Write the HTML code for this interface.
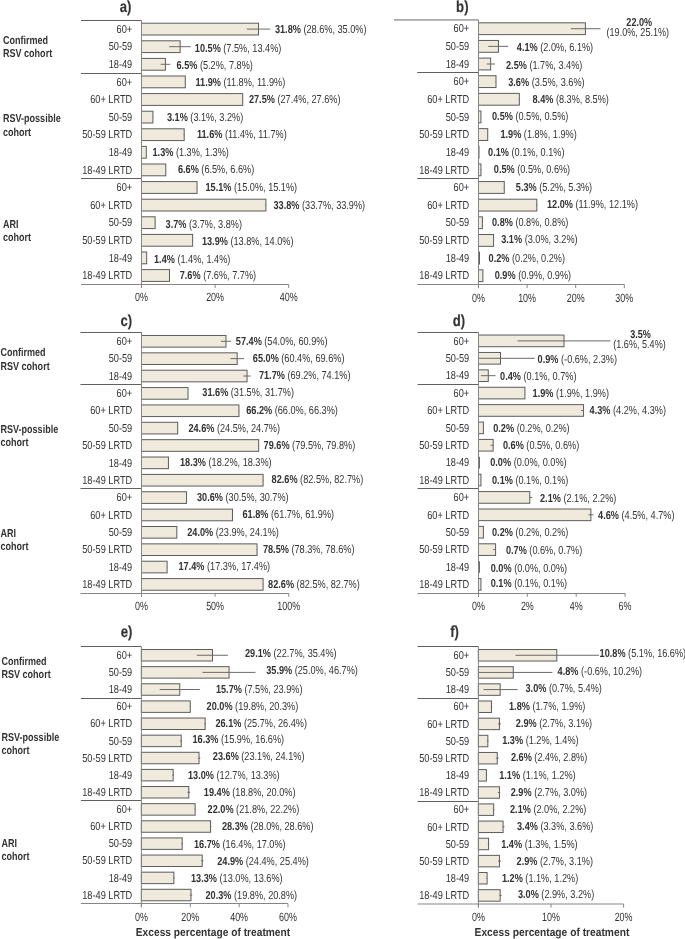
<!DOCTYPE html>
<html><head><meta charset="utf-8"><title>Excess percentage of treatment</title>
<style>
html,body{margin:0;padding:0;background:#fff;}
body{width:685px;height:939px;overflow:hidden;}
svg{display:block;}
svg text{font-family:"Liberation Sans",Arial,sans-serif;fill:#333333;text-rendering:geometricPrecision;}
</style></head><body>
<svg width="685" height="939" viewBox="0 0 685 939" shape-rendering="auto">
<g id="panel-a"><line x1="81" y1="20.5" x2="141.5" y2="20.5" stroke="#606060" stroke-width="1"/>
<line x1="81" y1="73.5" x2="141.5" y2="73.5" stroke="#606060"/>
<line x1="81" y1="178.5" x2="141.5" y2="178.5" stroke="#606060"/>
<line x1="81" y1="284.5" x2="288.7" y2="284.5" stroke="#858585"/>
<line x1="141.5" y1="284.3" x2="141.5" y2="287.9" stroke="#858585"/>
<text transform="translate(141.5,301) scale(0.745,1)" text-anchor="middle" font-size="12">0%</text>
<line x1="215.1" y1="284.3" x2="215.1" y2="287.9" stroke="#858585"/>
<text transform="translate(215.1,301) scale(0.745,1)" text-anchor="middle" font-size="12">20%</text>
<line x1="288.7" y1="284.3" x2="288.7" y2="287.9" stroke="#858585"/>
<text transform="translate(288.7,301) scale(0.745,1)" text-anchor="middle" font-size="12">40%</text>
<rect x="141.5" y="23.2" width="117.02" height="11.79" fill="#f0eadc" stroke="#5c5c5c"/>
<line x1="246.75" y1="29.1" x2="270.3" y2="29.1" stroke="#6a6a6a"/>
<text transform="translate(132.2,33) scale(0.8,1)" text-anchor="end" font-size="11.5">60+</text>
<text transform="translate(274.9,33) scale(0.79,1)" font-size="11.6"><tspan font-weight="bold">31.8%</tspan> (28.6%, 35.0%)</text>
<rect x="141.5" y="40.8" width="38.64" height="11.79" fill="#f0eadc" stroke="#5c5c5c"/>
<line x1="169.1" y1="46.7" x2="190.81" y2="46.7" stroke="#6a6a6a"/>
<text transform="translate(132.2,50) scale(0.8,1)" text-anchor="end" font-size="11.5">50-59</text>
<text transform="translate(194.8,52) scale(0.79,1)" font-size="11.6"><tspan font-weight="bold">10.5%</tspan> (7.5%, 13.4%)</text>
<rect x="141.5" y="58.4" width="23.92" height="11.79" fill="#f0eadc" stroke="#5c5c5c"/>
<line x1="160.64" y1="64.3" x2="170.2" y2="64.3" stroke="#6a6a6a"/>
<text transform="translate(132.2,68) scale(0.8,1)" text-anchor="end" font-size="11.5">18-49</text>
<text transform="translate(176.5,69) scale(0.79,1)" font-size="11.6"><tspan font-weight="bold">6.5%</tspan> (5.2%, 7.8%)</text>
<rect x="141.5" y="76" width="43.79" height="11.79" fill="#f0eadc" stroke="#5c5c5c"/>
<line x1="184.92" y1="81.9" x2="185.29" y2="81.9" stroke="#6a6a6a"/>
<text transform="translate(132.2,86) scale(0.8,1)" text-anchor="end" font-size="11.5">60+</text>
<text transform="translate(195.5,86) scale(0.79,1)" font-size="11.6"><tspan font-weight="bold">11.9%</tspan> (11.8%, 11.9%)</text>
<rect x="141.5" y="93.6" width="101.2" height="11.79" fill="#f0eadc" stroke="#5c5c5c"/>
<line x1="242.33" y1="99.5" x2="243.07" y2="99.5" stroke="#6a6a6a"/>
<text transform="translate(132.2,103) scale(0.8,1)" text-anchor="end" font-size="11.5">60+ LRTD</text>
<text transform="translate(248.9,103) scale(0.79,1)" font-size="11.6"><tspan font-weight="bold">27.5%</tspan> (27.4%, 27.6%)</text>
<rect x="141.5" y="111.2" width="11.41" height="11.79" fill="#f0eadc" stroke="#5c5c5c"/>
<line x1="152.91" y1="117.1" x2="153.28" y2="117.1" stroke="#6a6a6a"/>
<text transform="translate(132.2,121) scale(0.8,1)" text-anchor="end" font-size="11.5">50-59</text>
<text transform="translate(166.9,121) scale(0.79,1)" font-size="11.6"><tspan font-weight="bold">3.1%</tspan> (3.1%, 3.2%)</text>
<rect x="141.5" y="128.8" width="42.69" height="11.79" fill="#f0eadc" stroke="#5c5c5c"/>
<line x1="183.45" y1="134.7" x2="184.56" y2="134.7" stroke="#6a6a6a"/>
<text transform="translate(132.2,138) scale(0.8,1)" text-anchor="end" font-size="11.5">50-59 LRTD</text>
<text transform="translate(196.9,138) scale(0.79,1)" font-size="11.6"><tspan font-weight="bold">11.6%</tspan> (11.4%, 11.7%)</text>
<rect x="141.5" y="146.4" width="4.78" height="11.79" fill="#f0eadc" stroke="#5c5c5c"/>
<text transform="translate(132.2,156) scale(0.8,1)" text-anchor="end" font-size="11.5">18-49</text>
<text transform="translate(152.5,156) scale(0.79,1)" font-size="11.6"><tspan font-weight="bold">1.3%</tspan> (1.3%, 1.3%)</text>
<rect x="141.5" y="164" width="24.29" height="11.79" fill="#f0eadc" stroke="#5c5c5c"/>
<line x1="165.42" y1="169.9" x2="165.79" y2="169.9" stroke="#6a6a6a"/>
<text transform="translate(132.2,174) scale(0.8,1)" text-anchor="end" font-size="11.5">18-49 LRTD</text>
<text transform="translate(177.9,173) scale(0.79,1)" font-size="11.6"><tspan font-weight="bold">6.6%</tspan> (6.5%, 6.6%)</text>
<rect x="141.5" y="181.6" width="55.57" height="11.79" fill="#f0eadc" stroke="#5c5c5c"/>
<line x1="196.7" y1="187.5" x2="197.07" y2="187.5" stroke="#6a6a6a"/>
<text transform="translate(132.2,191) scale(0.8,1)" text-anchor="end" font-size="11.5">60+</text>
<text transform="translate(205.5,191) scale(0.79,1)" font-size="11.6"><tspan font-weight="bold">15.1%</tspan> (15.0%, 15.1%)</text>
<rect x="141.5" y="199.2" width="124.38" height="11.79" fill="#f0eadc" stroke="#5c5c5c"/>
<line x1="265.52" y1="205.1" x2="266.25" y2="205.1" stroke="#6a6a6a"/>
<text transform="translate(132.2,209) scale(0.8,1)" text-anchor="end" font-size="11.5">60+ LRTD</text>
<text transform="translate(273.5,209) scale(0.79,1)" font-size="11.6"><tspan font-weight="bold">33.8%</tspan> (33.7%, 33.9%)</text>
<rect x="141.5" y="216.8" width="13.62" height="11.79" fill="#f0eadc" stroke="#5c5c5c"/>
<line x1="155.12" y1="222.7" x2="155.48" y2="222.7" stroke="#6a6a6a"/>
<text transform="translate(132.2,226) scale(0.8,1)" text-anchor="end" font-size="11.5">50-59</text>
<text transform="translate(165.6,228) scale(0.79,1)" font-size="11.6"><tspan font-weight="bold">3.7%</tspan> (3.7%, 3.8%)</text>
<rect x="141.5" y="234.4" width="51.15" height="11.79" fill="#f0eadc" stroke="#5c5c5c"/>
<line x1="192.28" y1="240.3" x2="193.02" y2="240.3" stroke="#6a6a6a"/>
<text transform="translate(132.2,244) scale(0.8,1)" text-anchor="end" font-size="11.5">50-59 LRTD</text>
<text transform="translate(201.9,245) scale(0.79,1)" font-size="11.6"><tspan font-weight="bold">13.9%</tspan> (13.8%, 14.0%)</text>
<rect x="141.5" y="252" width="5.15" height="11.79" fill="#f0eadc" stroke="#5c5c5c"/>
<text transform="translate(132.2,262) scale(0.8,1)" text-anchor="end" font-size="11.5">18-49</text>
<text transform="translate(154,263) scale(0.79,1)" font-size="11.6"><tspan font-weight="bold">1.4%</tspan> (1.4%, 1.4%)</text>
<rect x="141.5" y="269.6" width="27.97" height="11.79" fill="#f0eadc" stroke="#5c5c5c"/>
<line x1="169.47" y1="275.5" x2="169.84" y2="275.5" stroke="#6a6a6a"/>
<text transform="translate(132.2,279) scale(0.8,1)" text-anchor="end" font-size="11.5">18-49 LRTD</text>
<text transform="translate(179.7,279) scale(0.79,1)" font-size="11.6"><tspan font-weight="bold">7.6%</tspan> (7.6%, 7.7%)</text>
<line x1="141.5" y1="20.3" x2="141.5" y2="287.9" stroke="#858585"/>
<text transform="translate(125.6,11.7) scale(0.82,1)" text-anchor="middle" font-size="16" font-weight="bold" stroke="#333" stroke-width="0.15">a)</text>
<text transform="translate(3,43.7) scale(0.785,1)" text-anchor="start" font-size="11.5" font-weight="bold">Confirmed</text>
<text transform="translate(3,57.1) scale(0.785,1)" text-anchor="start" font-size="11.5" font-weight="bold">RSV cohort</text>
<text transform="translate(3,122.4) scale(0.785,1)" text-anchor="start" font-size="11.5" font-weight="bold">RSV-possible</text>
<text transform="translate(3,135.6) scale(0.785,1)" text-anchor="start" font-size="11.5" font-weight="bold">cohort</text>
<text transform="translate(3,227.7) scale(0.785,1)" text-anchor="start" font-size="11.5" font-weight="bold">ARI</text>
<text transform="translate(3,240.9) scale(0.785,1)" text-anchor="start" font-size="11.5" font-weight="bold">cohort</text></g>
<g id="panel-b"><line x1="394" y1="19.9" x2="478.5" y2="19.9" stroke="#a8a8a8" stroke-width="1.6"/>
<line x1="417.2" y1="72.5" x2="478.5" y2="72.5" stroke="#606060"/>
<line x1="417.2" y1="178.5" x2="478.5" y2="178.5" stroke="#606060"/>
<line x1="417.2" y1="284.5" x2="624.3" y2="284.5" stroke="#858585"/>
<line x1="478.5" y1="284.5" x2="478.5" y2="288.1" stroke="#858585"/>
<text transform="translate(478.5,302) scale(0.745,1)" text-anchor="middle" font-size="12">0%</text>
<line x1="527.1" y1="284.5" x2="527.1" y2="288.1" stroke="#858585"/>
<text transform="translate(527.1,302) scale(0.745,1)" text-anchor="middle" font-size="12">10%</text>
<line x1="575.7" y1="284.5" x2="575.7" y2="288.1" stroke="#858585"/>
<text transform="translate(575.7,302) scale(0.745,1)" text-anchor="middle" font-size="12">20%</text>
<line x1="624.3" y1="284.5" x2="624.3" y2="288.1" stroke="#858585"/>
<text transform="translate(624.3,302) scale(0.745,1)" text-anchor="middle" font-size="12">30%</text>
<rect x="478.5" y="22.81" width="106.92" height="11.82" fill="#f0eadc" stroke="#5c5c5c"/>
<line x1="570.84" y1="28.72" x2="600.49" y2="28.72" stroke="#6a6a6a"/>
<text transform="translate(469.2,32) scale(0.8,1)" text-anchor="end" font-size="11.5">60+</text>
<rect x="478.5" y="40.45" width="19.93" height="11.82" fill="#f0eadc" stroke="#5c5c5c"/>
<line x1="488.22" y1="46.36" x2="508.15" y2="46.36" stroke="#6a6a6a"/>
<text transform="translate(469.2,50) scale(0.8,1)" text-anchor="end" font-size="11.5">50-59</text>
<text transform="translate(516.8,51) scale(0.79,1)" font-size="11.6"><tspan font-weight="bold">4.1%</tspan> (2.0%, 6.1%)</text>
<rect x="478.5" y="58.09" width="12.15" height="11.82" fill="#f0eadc" stroke="#5c5c5c"/>
<line x1="486.76" y1="64" x2="495.02" y2="64" stroke="#6a6a6a"/>
<text transform="translate(469.2,68) scale(0.8,1)" text-anchor="end" font-size="11.5">18-49</text>
<text transform="translate(506,69) scale(0.79,1)" font-size="11.6"><tspan font-weight="bold">2.5%</tspan> (1.7%, 3.4%)</text>
<rect x="478.5" y="75.73" width="17.5" height="11.82" fill="#f0eadc" stroke="#5c5c5c"/>
<line x1="495.51" y1="81.64" x2="496" y2="81.64" stroke="#6a6a6a"/>
<text transform="translate(469.2,85) scale(0.8,1)" text-anchor="end" font-size="11.5">60+</text>
<text transform="translate(508.2,86) scale(0.79,1)" font-size="11.6"><tspan font-weight="bold">3.6%</tspan> (3.5%, 3.6%)</text>
<rect x="478.5" y="93.37" width="40.82" height="11.82" fill="#f0eadc" stroke="#5c5c5c"/>
<line x1="518.84" y1="99.28" x2="519.81" y2="99.28" stroke="#6a6a6a"/>
<text transform="translate(469.2,103) scale(0.8,1)" text-anchor="end" font-size="11.5">60+ LRTD</text>
<text transform="translate(532.5,103) scale(0.79,1)" font-size="11.6"><tspan font-weight="bold">8.4%</tspan> (8.3%, 8.5%)</text>
<rect x="478.5" y="111.01" width="2.43" height="11.82" fill="#f0eadc" stroke="#5c5c5c"/>
<text transform="translate(469.2,121) scale(0.8,1)" text-anchor="end" font-size="11.5">50-59</text>
<text transform="translate(492,120) scale(0.79,1)" font-size="11.6"><tspan font-weight="bold">0.5%</tspan> (0.5%, 0.5%)</text>
<rect x="478.5" y="128.65" width="9.23" height="11.82" fill="#f0eadc" stroke="#5c5c5c"/>
<line x1="487.25" y1="134.56" x2="487.73" y2="134.56" stroke="#6a6a6a"/>
<text transform="translate(469.2,138) scale(0.8,1)" text-anchor="end" font-size="11.5">50-59 LRTD</text>
<text transform="translate(500.4,138) scale(0.79,1)" font-size="11.6"><tspan font-weight="bold">1.9%</tspan> (1.8%, 1.9%)</text>
<rect x="478.5" y="146.29" width="0.49" height="11.82" fill="#f0eadc" stroke="#5c5c5c"/>
<text transform="translate(469.2,156) scale(0.8,1)" text-anchor="end" font-size="11.5">18-49</text>
<text transform="translate(488.1,156) scale(0.79,1)" font-size="11.6"><tspan font-weight="bold">0.1%</tspan> (0.1%, 0.1%)</text>
<rect x="478.5" y="163.93" width="2.43" height="11.82" fill="#f0eadc" stroke="#5c5c5c"/>
<line x1="480.93" y1="169.84" x2="481.42" y2="169.84" stroke="#6a6a6a"/>
<text transform="translate(469.2,174) scale(0.8,1)" text-anchor="end" font-size="11.5">18-49 LRTD</text>
<text transform="translate(493.8,173) scale(0.79,1)" font-size="11.6"><tspan font-weight="bold">0.5%</tspan> (0.5%, 0.6%)</text>
<rect x="478.5" y="181.57" width="25.76" height="11.82" fill="#f0eadc" stroke="#5c5c5c"/>
<line x1="503.77" y1="187.48" x2="504.26" y2="187.48" stroke="#6a6a6a"/>
<text transform="translate(469.2,191) scale(0.8,1)" text-anchor="end" font-size="11.5">60+</text>
<text transform="translate(515.8,191) scale(0.79,1)" font-size="11.6"><tspan font-weight="bold">5.3%</tspan> (5.2%, 5.3%)</text>
<rect x="478.5" y="199.21" width="58.32" height="11.82" fill="#f0eadc" stroke="#5c5c5c"/>
<line x1="536.33" y1="205.12" x2="537.31" y2="205.12" stroke="#6a6a6a"/>
<text transform="translate(469.2,209) scale(0.8,1)" text-anchor="end" font-size="11.5">60+ LRTD</text>
<text transform="translate(547,208) scale(0.79,1)" font-size="11.6"><tspan font-weight="bold">12.0%</tspan> (11.9%, 12.1%)</text>
<rect x="478.5" y="216.85" width="3.89" height="11.82" fill="#f0eadc" stroke="#5c5c5c"/>
<text transform="translate(469.2,226) scale(0.8,1)" text-anchor="end" font-size="11.5">50-59</text>
<text transform="translate(492,226) scale(0.79,1)" font-size="11.6"><tspan font-weight="bold">0.8%</tspan> (0.8%, 0.8%)</text>
<rect x="478.5" y="234.49" width="15.07" height="11.82" fill="#f0eadc" stroke="#5c5c5c"/>
<line x1="493.08" y1="240.4" x2="494.05" y2="240.4" stroke="#6a6a6a"/>
<text transform="translate(469.2,244) scale(0.8,1)" text-anchor="end" font-size="11.5">50-59 LRTD</text>
<text transform="translate(501.2,243) scale(0.79,1)" font-size="11.6"><tspan font-weight="bold">3.1%</tspan> (3.0%, 3.2%)</text>
<rect x="478.5" y="252.13" width="0.97" height="11.82" fill="#f0eadc" stroke="#5c5c5c"/>
<text transform="translate(469.2,262) scale(0.8,1)" text-anchor="end" font-size="11.5">18-49</text>
<text transform="translate(488.6,262) scale(0.79,1)" font-size="11.6"><tspan font-weight="bold">0.2%</tspan> (0.2%, 0.2%)</text>
<rect x="478.5" y="269.77" width="4.37" height="11.82" fill="#f0eadc" stroke="#5c5c5c"/>
<text transform="translate(469.2,279) scale(0.8,1)" text-anchor="end" font-size="11.5">18-49 LRTD</text>
<text transform="translate(494.7,279) scale(0.79,1)" font-size="11.6"><tspan font-weight="bold">0.9%</tspan> (0.9%, 0.9%)</text>
<line x1="478.5" y1="19.9" x2="478.5" y2="288.1" stroke="#858585"/>
<text transform="translate(462.3,11.7) scale(0.82,1)" text-anchor="middle" font-size="16" font-weight="bold" stroke="#333" stroke-width="0.15">b)</text></g>
<g id="panel-c"><line x1="80.5" y1="332.5" x2="141.5" y2="332.5" stroke="#606060" stroke-width="1"/>
<line x1="80.5" y1="384.5" x2="141.5" y2="384.5" stroke="#606060"/>
<line x1="80.5" y1="488.5" x2="141.5" y2="488.5" stroke="#606060"/>
<line x1="80.5" y1="593.5" x2="288.7" y2="593.5" stroke="#858585"/>
<line x1="141.5" y1="593.1" x2="141.5" y2="596.7" stroke="#858585"/>
<text transform="translate(141.5,610) scale(0.745,1)" text-anchor="middle" font-size="12">0%</text>
<line x1="215.1" y1="593.1" x2="215.1" y2="596.7" stroke="#858585"/>
<text transform="translate(215.1,610) scale(0.745,1)" text-anchor="middle" font-size="12">50%</text>
<line x1="288.7" y1="593.1" x2="288.7" y2="596.7" stroke="#858585"/>
<text transform="translate(288.7,610) scale(0.745,1)" text-anchor="middle" font-size="12">100%</text>
<rect x="141.5" y="335.47" width="84.49" height="11.64" fill="#f0eadc" stroke="#5c5c5c"/>
<line x1="220.99" y1="341.28" x2="231.14" y2="341.28" stroke="#6a6a6a"/>
<text transform="translate(132.2,345) scale(0.8,1)" text-anchor="end" font-size="11.5">60+</text>
<text transform="translate(235.8,345) scale(0.79,1)" font-size="11.6"><tspan font-weight="bold">57.4%</tspan> (54.0%, 60.9%)</text>
<rect x="141.5" y="352.83" width="95.68" height="11.64" fill="#f0eadc" stroke="#5c5c5c"/>
<line x1="230.41" y1="358.65" x2="243.95" y2="358.65" stroke="#6a6a6a"/>
<text transform="translate(132.2,362) scale(0.8,1)" text-anchor="end" font-size="11.5">50-59</text>
<text transform="translate(252.8,362) scale(0.79,1)" font-size="11.6"><tspan font-weight="bold">65.0%</tspan> (60.4%, 69.6%)</text>
<rect x="141.5" y="370.2" width="105.54" height="11.64" fill="#f0eadc" stroke="#5c5c5c"/>
<line x1="243.36" y1="376.02" x2="250.58" y2="376.02" stroke="#6a6a6a"/>
<text transform="translate(132.2,380) scale(0.8,1)" text-anchor="end" font-size="11.5">18-49</text>
<text transform="translate(258.9,379) scale(0.79,1)" font-size="11.6"><tspan font-weight="bold">71.7%</tspan> (69.2%, 74.1%)</text>
<rect x="141.5" y="387.57" width="46.52" height="11.64" fill="#f0eadc" stroke="#5c5c5c"/>
<line x1="187.87" y1="393.38" x2="188.16" y2="393.38" stroke="#6a6a6a"/>
<text transform="translate(132.2,397) scale(0.8,1)" text-anchor="end" font-size="11.5">60+</text>
<text transform="translate(202.3,396) scale(0.79,1)" font-size="11.6"><tspan font-weight="bold">31.6%</tspan> (31.5%, 31.7%)</text>
<rect x="141.5" y="404.93" width="97.45" height="11.64" fill="#f0eadc" stroke="#5c5c5c"/>
<line x1="238.65" y1="410.75" x2="239.09" y2="410.75" stroke="#6a6a6a"/>
<text transform="translate(132.2,414) scale(0.8,1)" text-anchor="end" font-size="11.5">60+ LRTD</text>
<text transform="translate(246.2,414) scale(0.79,1)" font-size="11.6"><tspan font-weight="bold">66.2%</tspan> (66.0%, 66.3%)</text>
<rect x="141.5" y="422.3" width="36.21" height="11.64" fill="#f0eadc" stroke="#5c5c5c"/>
<line x1="177.56" y1="428.12" x2="177.86" y2="428.12" stroke="#6a6a6a"/>
<text transform="translate(132.2,432) scale(0.8,1)" text-anchor="end" font-size="11.5">50-59</text>
<text transform="translate(188.4,432) scale(0.79,1)" font-size="11.6"><tspan font-weight="bold">24.6%</tspan> (24.5%, 24.7%)</text>
<rect x="141.5" y="439.67" width="117.17" height="11.64" fill="#f0eadc" stroke="#5c5c5c"/>
<line x1="258.52" y1="445.48" x2="258.97" y2="445.48" stroke="#6a6a6a"/>
<text transform="translate(132.2,449) scale(0.8,1)" text-anchor="end" font-size="11.5">50-59 LRTD</text>
<text transform="translate(263.6,449) scale(0.79,1)" font-size="11.6"><tspan font-weight="bold">79.6%</tspan> (79.5%, 79.8%)</text>
<rect x="141.5" y="457.03" width="26.94" height="11.64" fill="#f0eadc" stroke="#5c5c5c"/>
<line x1="168.29" y1="462.85" x2="168.44" y2="462.85" stroke="#6a6a6a"/>
<text transform="translate(132.2,467) scale(0.8,1)" text-anchor="end" font-size="11.5">18-49</text>
<text transform="translate(180,466) scale(0.79,1)" font-size="11.6"><tspan font-weight="bold">18.3%</tspan> (18.2%, 18.3%)</text>
<rect x="141.5" y="474.4" width="121.59" height="11.64" fill="#f0eadc" stroke="#5c5c5c"/>
<line x1="262.94" y1="480.22" x2="263.23" y2="480.22" stroke="#6a6a6a"/>
<text transform="translate(132.2,484) scale(0.8,1)" text-anchor="end" font-size="11.5">18-49 LRTD</text>
<text transform="translate(271.6,483) scale(0.79,1)" font-size="11.6"><tspan font-weight="bold">82.6%</tspan> (82.5%, 82.7%)</text>
<rect x="141.5" y="491.77" width="45.04" height="11.64" fill="#f0eadc" stroke="#5c5c5c"/>
<line x1="186.4" y1="497.58" x2="186.69" y2="497.58" stroke="#6a6a6a"/>
<text transform="translate(132.2,501) scale(0.8,1)" text-anchor="end" font-size="11.5">60+</text>
<text transform="translate(197,501) scale(0.79,1)" font-size="11.6"><tspan font-weight="bold">30.6%</tspan> (30.5%, 30.7%)</text>
<rect x="141.5" y="509.13" width="90.97" height="11.64" fill="#f0eadc" stroke="#5c5c5c"/>
<line x1="232.32" y1="514.95" x2="232.62" y2="514.95" stroke="#6a6a6a"/>
<text transform="translate(132.2,519) scale(0.8,1)" text-anchor="end" font-size="11.5">60+ LRTD</text>
<text transform="translate(242.5,518) scale(0.79,1)" font-size="11.6"><tspan font-weight="bold">61.8%</tspan> (61.7%, 61.9%)</text>
<rect x="141.5" y="526.5" width="35.33" height="11.64" fill="#f0eadc" stroke="#5c5c5c"/>
<line x1="176.68" y1="532.32" x2="176.98" y2="532.32" stroke="#6a6a6a"/>
<text transform="translate(132.2,536) scale(0.8,1)" text-anchor="end" font-size="11.5">50-59</text>
<text transform="translate(187.2,536) scale(0.79,1)" font-size="11.6"><tspan font-weight="bold">24.0%</tspan> (23.9%, 24.1%)</text>
<rect x="141.5" y="543.87" width="115.55" height="11.64" fill="#f0eadc" stroke="#5c5c5c"/>
<line x1="256.76" y1="549.68" x2="257.2" y2="549.68" stroke="#6a6a6a"/>
<text transform="translate(132.2,553) scale(0.8,1)" text-anchor="end" font-size="11.5">50-59 LRTD</text>
<text transform="translate(262.9,553) scale(0.79,1)" font-size="11.6"><tspan font-weight="bold">78.5%</tspan> (78.3%, 78.6%)</text>
<rect x="141.5" y="561.23" width="25.61" height="11.64" fill="#f0eadc" stroke="#5c5c5c"/>
<line x1="166.97" y1="567.05" x2="167.11" y2="567.05" stroke="#6a6a6a"/>
<text transform="translate(132.2,571) scale(0.8,1)" text-anchor="end" font-size="11.5">18-49</text>
<text transform="translate(178.5,570) scale(0.79,1)" font-size="11.6"><tspan font-weight="bold">17.4%</tspan> (17.3%, 17.4%)</text>
<rect x="141.5" y="578.6" width="121.59" height="11.64" fill="#f0eadc" stroke="#5c5c5c"/>
<line x1="262.94" y1="584.42" x2="263.23" y2="584.42" stroke="#6a6a6a"/>
<text transform="translate(132.2,588) scale(0.8,1)" text-anchor="end" font-size="11.5">18-49 LRTD</text>
<text transform="translate(268.1,588) scale(0.79,1)" font-size="11.6"><tspan font-weight="bold">82.6%</tspan> (82.5%, 82.7%)</text>
<line x1="141.5" y1="332.6" x2="141.5" y2="596.7" stroke="#858585"/>
<text transform="translate(126.3,325.8) scale(0.82,1)" text-anchor="middle" font-size="16" font-weight="bold" stroke="#333" stroke-width="0.15">c)</text>
<text transform="translate(0.5,355.9) scale(0.785,1)" text-anchor="start" font-size="11.5" font-weight="bold">Confirmed</text>
<text transform="translate(0.5,369.5) scale(0.785,1)" text-anchor="start" font-size="11.5" font-weight="bold">RSV cohort</text>
<text transform="translate(0.5,433.4) scale(0.785,1)" text-anchor="start" font-size="11.5" font-weight="bold">RSV-possible</text>
<text transform="translate(0.5,446.4) scale(0.785,1)" text-anchor="start" font-size="11.5" font-weight="bold">cohort</text>
<text transform="translate(0.5,536.8) scale(0.785,1)" text-anchor="start" font-size="11.5" font-weight="bold">ARI</text>
<text transform="translate(0.5,549.8) scale(0.785,1)" text-anchor="start" font-size="11.5" font-weight="bold">cohort</text></g>
<g id="panel-d"><line x1="417.6" y1="332.5" x2="478.5" y2="332.5" stroke="#606060" stroke-width="1"/>
<line x1="417.6" y1="384.5" x2="478.5" y2="384.5" stroke="#606060"/>
<line x1="417.6" y1="488.5" x2="478.5" y2="488.5" stroke="#606060"/>
<line x1="417.6" y1="593.5" x2="625.08" y2="593.5" stroke="#858585"/>
<line x1="478.5" y1="593.1" x2="478.5" y2="596.7" stroke="#858585"/>
<text transform="translate(478.5,610) scale(0.745,1)" text-anchor="middle" font-size="12">0%</text>
<line x1="527.36" y1="593.1" x2="527.36" y2="596.7" stroke="#858585"/>
<text transform="translate(527.36,610) scale(0.745,1)" text-anchor="middle" font-size="12">2%</text>
<line x1="576.22" y1="593.1" x2="576.22" y2="596.7" stroke="#858585"/>
<text transform="translate(576.22,610) scale(0.745,1)" text-anchor="middle" font-size="12">4%</text>
<line x1="625.08" y1="593.1" x2="625.08" y2="596.7" stroke="#858585"/>
<text transform="translate(625.08,610) scale(0.745,1)" text-anchor="middle" font-size="12">6%</text>
<rect x="478.5" y="335.07" width="85.5" height="11.65" fill="#f0eadc" stroke="#5c5c5c"/>
<line x1="517.59" y1="340.9" x2="610.42" y2="340.9" stroke="#6a6a6a"/>
<text transform="translate(469.2,345) scale(0.8,1)" text-anchor="end" font-size="11.5">60+</text>
<rect x="478.5" y="352.46" width="21.99" height="11.65" fill="#f0eadc" stroke="#5c5c5c"/>
<line x1="478.5" y1="358.29" x2="534.69" y2="358.29" stroke="#6a6a6a"/>
<text transform="translate(469.2,362) scale(0.8,1)" text-anchor="end" font-size="11.5">50-59</text>
<text transform="translate(537.6,363) scale(0.79,1)" font-size="11.6"><tspan font-weight="bold">0.9%</tspan> (-0.6%, 2.3%)</text>
<rect x="478.5" y="369.86" width="9.77" height="11.65" fill="#f0eadc" stroke="#5c5c5c"/>
<line x1="480.94" y1="375.68" x2="495.6" y2="375.68" stroke="#6a6a6a"/>
<text transform="translate(469.2,379) scale(0.8,1)" text-anchor="end" font-size="11.5">18-49</text>
<text transform="translate(500.1,380) scale(0.79,1)" font-size="11.6"><tspan font-weight="bold">0.4%</tspan> (0.1%, 0.7%)</text>
<rect x="478.5" y="387.25" width="46.42" height="11.65" fill="#f0eadc" stroke="#5c5c5c"/>
<text transform="translate(469.2,397) scale(0.8,1)" text-anchor="end" font-size="11.5">60+</text>
<text transform="translate(532.6,397) scale(0.79,1)" font-size="11.6"><tspan font-weight="bold">1.9%</tspan> (1.9%, 1.9%)</text>
<rect x="478.5" y="404.64" width="105.05" height="11.65" fill="#f0eadc" stroke="#5c5c5c"/>
<line x1="581.11" y1="410.47" x2="583.55" y2="410.47" stroke="#6a6a6a"/>
<text transform="translate(469.2,414) scale(0.8,1)" text-anchor="end" font-size="11.5">60+ LRTD</text>
<text transform="translate(589.6,414) scale(0.79,1)" font-size="11.6"><tspan font-weight="bold">4.3%</tspan> (4.2%, 4.3%)</text>
<rect x="478.5" y="422.04" width="4.89" height="11.65" fill="#f0eadc" stroke="#5c5c5c"/>
<text transform="translate(469.2,432) scale(0.8,1)" text-anchor="end" font-size="11.5">50-59</text>
<text transform="translate(493.2,432) scale(0.79,1)" font-size="11.6"><tspan font-weight="bold">0.2%</tspan> (0.2%, 0.2%)</text>
<rect x="478.5" y="439.43" width="14.66" height="11.65" fill="#f0eadc" stroke="#5c5c5c"/>
<line x1="490.71" y1="445.26" x2="493.16" y2="445.26" stroke="#6a6a6a"/>
<text transform="translate(469.2,449) scale(0.8,1)" text-anchor="end" font-size="11.5">50-59 LRTD</text>
<text transform="translate(502.9,449) scale(0.79,1)" font-size="11.6"><tspan font-weight="bold">0.6%</tspan> (0.5%, 0.6%)</text>
<line x1="479.3" y1="456.82" x2="479.3" y2="468.48" stroke="#5c5c5c" stroke-width="1.2"/>
<text transform="translate(469.2,466) scale(0.8,1)" text-anchor="end" font-size="11.5">18-49</text>
<text transform="translate(490.2,466) scale(0.79,1)" font-size="11.6"><tspan font-weight="bold">0.0%</tspan> (0.0%, 0.0%)</text>
<rect x="478.5" y="474.22" width="2.44" height="11.65" fill="#f0eadc" stroke="#5c5c5c"/>
<text transform="translate(469.2,484) scale(0.8,1)" text-anchor="end" font-size="11.5">18-49 LRTD</text>
<text transform="translate(492,484) scale(0.79,1)" font-size="11.6"><tspan font-weight="bold">0.1%</tspan> (0.1%, 0.1%)</text>
<rect x="478.5" y="491.61" width="51.3" height="11.65" fill="#f0eadc" stroke="#5c5c5c"/>
<line x1="529.8" y1="497.44" x2="532.25" y2="497.44" stroke="#6a6a6a"/>
<text transform="translate(469.2,501) scale(0.8,1)" text-anchor="end" font-size="11.5">60+</text>
<text transform="translate(540,502) scale(0.79,1)" font-size="11.6"><tspan font-weight="bold">2.1%</tspan> (2.1%, 2.2%)</text>
<rect x="478.5" y="509" width="112.38" height="11.65" fill="#f0eadc" stroke="#5c5c5c"/>
<line x1="588.43" y1="514.83" x2="593.32" y2="514.83" stroke="#6a6a6a"/>
<text transform="translate(469.2,519) scale(0.8,1)" text-anchor="end" font-size="11.5">60+ LRTD</text>
<text transform="translate(598.1,519) scale(0.79,1)" font-size="11.6"><tspan font-weight="bold">4.6%</tspan> (4.5%, 4.7%)</text>
<rect x="478.5" y="526.4" width="4.89" height="11.65" fill="#f0eadc" stroke="#5c5c5c"/>
<text transform="translate(469.2,536) scale(0.8,1)" text-anchor="end" font-size="11.5">50-59</text>
<text transform="translate(492,536) scale(0.79,1)" font-size="11.6"><tspan font-weight="bold">0.2%</tspan> (0.2%, 0.2%)</text>
<rect x="478.5" y="543.79" width="17.1" height="11.65" fill="#f0eadc" stroke="#5c5c5c"/>
<line x1="493.16" y1="549.62" x2="495.6" y2="549.62" stroke="#6a6a6a"/>
<text transform="translate(469.2,553) scale(0.8,1)" text-anchor="end" font-size="11.5">50-59 LRTD</text>
<text transform="translate(505.9,554) scale(0.79,1)" font-size="11.6"><tspan font-weight="bold">0.7%</tspan> (0.6%, 0.7%)</text>
<line x1="479.3" y1="561.18" x2="479.3" y2="572.84" stroke="#5c5c5c" stroke-width="1.2"/>
<text transform="translate(469.2,571) scale(0.8,1)" text-anchor="end" font-size="11.5">18-49</text>
<text transform="translate(490.7,572) scale(0.79,1)" font-size="11.6"><tspan font-weight="bold">0.0%</tspan> (0.0%, 0.0%)</text>
<rect x="478.5" y="578.58" width="2.44" height="11.65" fill="#f0eadc" stroke="#5c5c5c"/>
<text transform="translate(469.2,588) scale(0.8,1)" text-anchor="end" font-size="11.5">18-49 LRTD</text>
<text transform="translate(490.7,587) scale(0.79,1)" font-size="11.6"><tspan font-weight="bold">0.1%</tspan> (0.1%, 0.1%)</text>
<line x1="478.5" y1="332.2" x2="478.5" y2="596.7" stroke="#858585"/>
<text transform="translate(459,326) scale(0.82,1)" text-anchor="middle" font-size="16" font-weight="bold" stroke="#333" stroke-width="0.15">d)</text></g>
<g id="panel-e"><line x1="80.9" y1="646.5" x2="141.4" y2="646.5" stroke="#606060" stroke-width="1"/>
<line x1="80.9" y1="698.5" x2="141.4" y2="698.5" stroke="#606060"/>
<line x1="80.9" y1="800.5" x2="141.4" y2="800.5" stroke="#606060"/>
<line x1="80.9" y1="903.5" x2="287.98" y2="903.5" stroke="#858585"/>
<line x1="141.4" y1="903.6" x2="141.4" y2="907.2" stroke="#858585"/>
<text transform="translate(141.4,921) scale(0.745,1)" text-anchor="middle" font-size="12">0%</text>
<line x1="190.26" y1="903.6" x2="190.26" y2="907.2" stroke="#858585"/>
<text transform="translate(190.26,921) scale(0.745,1)" text-anchor="middle" font-size="12">20%</text>
<line x1="239.12" y1="903.6" x2="239.12" y2="907.2" stroke="#858585"/>
<text transform="translate(239.12,921) scale(0.745,1)" text-anchor="middle" font-size="12">40%</text>
<line x1="287.98" y1="903.6" x2="287.98" y2="907.2" stroke="#858585"/>
<text transform="translate(287.98,921) scale(0.745,1)" text-anchor="middle" font-size="12">60%</text>
<rect x="141.4" y="649.53" width="71.09" height="11.47" fill="#f0eadc" stroke="#5c5c5c"/>
<line x1="196.86" y1="655.26" x2="227.88" y2="655.26" stroke="#6a6a6a"/>
<text transform="translate(132.2,659) scale(0.8,1)" text-anchor="end" font-size="11.5">60+</text>
<text transform="translate(245,657) scale(0.79,1)" font-size="11.6"><tspan font-weight="bold">29.1%</tspan> (22.7%, 35.4%)</text>
<rect x="141.4" y="666.65" width="87.7" height="11.47" fill="#f0eadc" stroke="#5c5c5c"/>
<line x1="202.48" y1="672.39" x2="255.49" y2="672.39" stroke="#6a6a6a"/>
<text transform="translate(132.2,676) scale(0.8,1)" text-anchor="end" font-size="11.5">50-59</text>
<text transform="translate(266.2,674) scale(0.79,1)" font-size="11.6"><tspan font-weight="bold">35.9%</tspan> (25.0%, 46.7%)</text>
<rect x="141.4" y="683.78" width="38.36" height="11.47" fill="#f0eadc" stroke="#5c5c5c"/>
<line x1="159.72" y1="689.52" x2="199.79" y2="689.52" stroke="#6a6a6a"/>
<text transform="translate(132.2,693) scale(0.8,1)" text-anchor="end" font-size="11.5">18-49</text>
<text transform="translate(215.9,693) scale(0.79,1)" font-size="11.6"><tspan font-weight="bold">15.7%</tspan> (7.5%, 23.9%)</text>
<rect x="141.4" y="700.91" width="48.86" height="11.47" fill="#f0eadc" stroke="#5c5c5c"/>
<line x1="189.77" y1="706.64" x2="190.99" y2="706.64" stroke="#6a6a6a"/>
<text transform="translate(132.2,710) scale(0.8,1)" text-anchor="end" font-size="11.5">60+</text>
<text transform="translate(206.6,710) scale(0.79,1)" font-size="11.6"><tspan font-weight="bold">20.0%</tspan> (19.8%, 20.3%)</text>
<rect x="141.4" y="718.03" width="63.76" height="11.47" fill="#f0eadc" stroke="#5c5c5c"/>
<line x1="204.19" y1="723.77" x2="205.9" y2="723.77" stroke="#6a6a6a"/>
<text transform="translate(132.2,727) scale(0.8,1)" text-anchor="end" font-size="11.5">60+ LRTD</text>
<text transform="translate(215.4,727) scale(0.79,1)" font-size="11.6"><tspan font-weight="bold">26.1%</tspan> (25.7%, 26.4%)</text>
<rect x="141.4" y="735.16" width="39.82" height="11.47" fill="#f0eadc" stroke="#5c5c5c"/>
<line x1="180.24" y1="740.9" x2="181.95" y2="740.9" stroke="#6a6a6a"/>
<text transform="translate(132.2,745) scale(0.8,1)" text-anchor="end" font-size="11.5">50-59</text>
<text transform="translate(192.5,743) scale(0.79,1)" font-size="11.6"><tspan font-weight="bold">16.3%</tspan> (15.9%, 16.6%)</text>
<rect x="141.4" y="752.29" width="57.65" height="11.47" fill="#f0eadc" stroke="#5c5c5c"/>
<line x1="197.83" y1="758.02" x2="200.28" y2="758.02" stroke="#6a6a6a"/>
<text transform="translate(132.2,762) scale(0.8,1)" text-anchor="end" font-size="11.5">50-59 LRTD</text>
<text transform="translate(212.8,760) scale(0.79,1)" font-size="11.6"><tspan font-weight="bold">23.6%</tspan> (23.1%, 24.1%)</text>
<rect x="141.4" y="769.41" width="31.76" height="11.47" fill="#f0eadc" stroke="#5c5c5c"/>
<line x1="172.43" y1="775.15" x2="173.89" y2="775.15" stroke="#6a6a6a"/>
<text transform="translate(132.2,779) scale(0.8,1)" text-anchor="end" font-size="11.5">18-49</text>
<text transform="translate(188,779) scale(0.79,1)" font-size="11.6"><tspan font-weight="bold">13.0%</tspan> (12.7%, 13.3%)</text>
<rect x="141.4" y="786.54" width="47.39" height="11.47" fill="#f0eadc" stroke="#5c5c5c"/>
<line x1="187.33" y1="792.28" x2="190.26" y2="792.28" stroke="#6a6a6a"/>
<text transform="translate(132.2,796) scale(0.8,1)" text-anchor="end" font-size="11.5">18-49 LRTD</text>
<text transform="translate(203.8,796) scale(0.79,1)" font-size="11.6"><tspan font-weight="bold">19.4%</tspan> (18.8%, 20.0%)</text>
<rect x="141.4" y="803.67" width="53.75" height="11.47" fill="#f0eadc" stroke="#5c5c5c"/>
<line x1="194.66" y1="809.4" x2="195.63" y2="809.4" stroke="#6a6a6a"/>
<text transform="translate(132.2,813) scale(0.8,1)" text-anchor="end" font-size="11.5">60+</text>
<text transform="translate(207.6,813) scale(0.79,1)" font-size="11.6"><tspan font-weight="bold">22.0%</tspan> (21.8%, 22.2%)</text>
<rect x="141.4" y="820.79" width="69.14" height="11.47" fill="#f0eadc" stroke="#5c5c5c"/>
<line x1="209.8" y1="826.53" x2="211.27" y2="826.53" stroke="#6a6a6a"/>
<text transform="translate(132.2,830) scale(0.8,1)" text-anchor="end" font-size="11.5">60+ LRTD</text>
<text transform="translate(221.9,830) scale(0.79,1)" font-size="11.6"><tspan font-weight="bold">28.3%</tspan> (28.0%, 28.6%)</text>
<rect x="141.4" y="837.92" width="40.8" height="11.47" fill="#f0eadc" stroke="#5c5c5c"/>
<line x1="181.47" y1="843.66" x2="182.93" y2="843.66" stroke="#6a6a6a"/>
<text transform="translate(132.2,847) scale(0.8,1)" text-anchor="end" font-size="11.5">50-59</text>
<text transform="translate(194,848) scale(0.79,1)" font-size="11.6"><tspan font-weight="bold">16.7%</tspan> (16.4%, 17.0%)</text>
<rect x="141.4" y="855.05" width="60.83" height="11.47" fill="#f0eadc" stroke="#5c5c5c"/>
<line x1="201.01" y1="860.78" x2="203.45" y2="860.78" stroke="#6a6a6a"/>
<text transform="translate(132.2,864) scale(0.8,1)" text-anchor="end" font-size="11.5">50-59 LRTD</text>
<text transform="translate(217.2,865) scale(0.79,1)" font-size="11.6"><tspan font-weight="bold">24.9%</tspan> (24.4%, 25.4%)</text>
<rect x="141.4" y="872.17" width="32.49" height="11.47" fill="#f0eadc" stroke="#5c5c5c"/>
<line x1="173.16" y1="877.91" x2="174.62" y2="877.91" stroke="#6a6a6a"/>
<text transform="translate(132.2,882) scale(0.8,1)" text-anchor="end" font-size="11.5">18-49</text>
<text transform="translate(191,882) scale(0.79,1)" font-size="11.6"><tspan font-weight="bold">13.3%</tspan> (13.0%, 13.6%)</text>
<rect x="141.4" y="889.3" width="49.59" height="11.47" fill="#f0eadc" stroke="#5c5c5c"/>
<line x1="189.77" y1="895.04" x2="192.21" y2="895.04" stroke="#6a6a6a"/>
<text transform="translate(132.2,899) scale(0.8,1)" text-anchor="end" font-size="11.5">18-49 LRTD</text>
<text transform="translate(205.5,899) scale(0.79,1)" font-size="11.6"><tspan font-weight="bold">20.3%</tspan> (19.8%, 20.8%)</text>
<line x1="141.4" y1="646.7" x2="141.4" y2="907.2" stroke="#858585"/>
<text transform="translate(126.6,637.2) scale(0.82,1)" text-anchor="middle" font-size="16" font-weight="bold" stroke="#333" stroke-width="0.15">e)</text>
<text transform="translate(1.5,664.9) scale(0.785,1)" text-anchor="start" font-size="11.5" font-weight="bold">Confirmed</text>
<text transform="translate(1.5,678.4) scale(0.785,1)" text-anchor="start" font-size="11.5" font-weight="bold">RSV cohort</text>
<text transform="translate(1.5,741) scale(0.785,1)" text-anchor="start" font-size="11.5" font-weight="bold">RSV-possible</text>
<text transform="translate(1.5,754) scale(0.785,1)" text-anchor="start" font-size="11.5" font-weight="bold">cohort</text>
<text transform="translate(1.5,846.6) scale(0.785,1)" text-anchor="start" font-size="11.5" font-weight="bold">ARI</text>
<text transform="translate(1.5,859.8) scale(0.785,1)" text-anchor="start" font-size="11.5" font-weight="bold">cohort</text></g>
<g id="panel-f"><line x1="417.6" y1="646.5" x2="478.4" y2="646.5" stroke="#606060" stroke-width="1"/>
<line x1="417.6" y1="698.5" x2="478.4" y2="698.5" stroke="#606060"/>
<line x1="417.6" y1="801.5" x2="478.4" y2="801.5" stroke="#606060"/>
<line x1="417.6" y1="904" x2="623.6" y2="904" stroke="#858585"/>
<line x1="478.4" y1="904" x2="478.4" y2="907.6" stroke="#858585"/>
<text transform="translate(478.4,921) scale(0.745,1)" text-anchor="middle" font-size="12">0%</text>
<line x1="551" y1="904" x2="551" y2="907.6" stroke="#858585"/>
<text transform="translate(551,921) scale(0.745,1)" text-anchor="middle" font-size="12">10%</text>
<line x1="623.6" y1="904" x2="623.6" y2="907.6" stroke="#858585"/>
<text transform="translate(623.6,921) scale(0.745,1)" text-anchor="middle" font-size="12">20%</text>
<rect x="478.4" y="649.53" width="78.41" height="11.49" fill="#f0eadc" stroke="#5c5c5c"/>
<line x1="515.43" y1="655.28" x2="598.92" y2="655.28" stroke="#6a6a6a"/>
<text transform="translate(469.2,659) scale(0.8,1)" text-anchor="end" font-size="11.5">60+</text>
<text transform="translate(599.6,657) scale(0.79,1)" font-size="11.6"><tspan font-weight="bold">10.8%</tspan> (5.1%, 16.6%)</text>
<rect x="478.4" y="666.68" width="34.85" height="11.49" fill="#f0eadc" stroke="#5c5c5c"/>
<line x1="478.4" y1="672.43" x2="552.45" y2="672.43" stroke="#6a6a6a"/>
<text transform="translate(469.2,676) scale(0.8,1)" text-anchor="end" font-size="11.5">50-59</text>
<text transform="translate(557.6,675) scale(0.79,1)" font-size="11.6"><tspan font-weight="bold">4.8%</tspan> (-0.6%, 10.2%)</text>
<rect x="478.4" y="683.84" width="21.78" height="11.49" fill="#f0eadc" stroke="#5c5c5c"/>
<line x1="483.48" y1="689.58" x2="517.6" y2="689.58" stroke="#6a6a6a"/>
<text transform="translate(469.2,693) scale(0.8,1)" text-anchor="end" font-size="11.5">18-49</text>
<text transform="translate(525.5,692) scale(0.79,1)" font-size="11.6"><tspan font-weight="bold">3.0%</tspan> (0.7%, 5.4%)</text>
<rect x="478.4" y="700.99" width="13.07" height="11.49" fill="#f0eadc" stroke="#5c5c5c"/>
<line x1="490.74" y1="706.74" x2="492.19" y2="706.74" stroke="#6a6a6a"/>
<text transform="translate(469.2,710) scale(0.8,1)" text-anchor="end" font-size="11.5">60+</text>
<text transform="translate(509,710) scale(0.79,1)" font-size="11.6"><tspan font-weight="bold">1.8%</tspan> (1.7%, 1.9%)</text>
<rect x="478.4" y="718.14" width="21.05" height="11.49" fill="#f0eadc" stroke="#5c5c5c"/>
<line x1="498" y1="723.89" x2="500.91" y2="723.89" stroke="#6a6a6a"/>
<text transform="translate(469.2,728) scale(0.8,1)" text-anchor="end" font-size="11.5">60+ LRTD</text>
<text transform="translate(515.8,727) scale(0.79,1)" font-size="11.6"><tspan font-weight="bold">2.9%</tspan> (2.7%, 3.1%)</text>
<rect x="478.4" y="735.3" width="9.44" height="11.49" fill="#f0eadc" stroke="#5c5c5c"/>
<line x1="487.11" y1="741.04" x2="488.56" y2="741.04" stroke="#6a6a6a"/>
<text transform="translate(469.2,745) scale(0.8,1)" text-anchor="end" font-size="11.5">50-59</text>
<text transform="translate(502.2,744) scale(0.79,1)" font-size="11.6"><tspan font-weight="bold">1.3%</tspan> (1.2%, 1.4%)</text>
<rect x="478.4" y="752.45" width="18.88" height="11.49" fill="#f0eadc" stroke="#5c5c5c"/>
<line x1="495.82" y1="758.2" x2="498.73" y2="758.2" stroke="#6a6a6a"/>
<text transform="translate(469.2,762) scale(0.8,1)" text-anchor="end" font-size="11.5">50-59 LRTD</text>
<text transform="translate(510.9,761) scale(0.79,1)" font-size="11.6"><tspan font-weight="bold">2.6%</tspan> (2.4%, 2.8%)</text>
<rect x="478.4" y="769.6" width="7.99" height="11.49" fill="#f0eadc" stroke="#5c5c5c"/>
<line x1="486.39" y1="775.35" x2="487.11" y2="775.35" stroke="#6a6a6a"/>
<text transform="translate(469.2,779) scale(0.8,1)" text-anchor="end" font-size="11.5">18-49</text>
<text transform="translate(499.2,779) scale(0.79,1)" font-size="11.6"><tspan font-weight="bold">1.1%</tspan> (1.1%, 1.2%)</text>
<rect x="478.4" y="786.76" width="21.05" height="11.49" fill="#f0eadc" stroke="#5c5c5c"/>
<line x1="498" y1="792.5" x2="500.18" y2="792.5" stroke="#6a6a6a"/>
<text transform="translate(469.2,796) scale(0.8,1)" text-anchor="end" font-size="11.5">18-49 LRTD</text>
<text transform="translate(510.7,796) scale(0.79,1)" font-size="11.6"><tspan font-weight="bold">2.9%</tspan> (2.7%, 3.0%)</text>
<rect x="478.4" y="803.91" width="15.25" height="11.49" fill="#f0eadc" stroke="#5c5c5c"/>
<line x1="492.92" y1="809.66" x2="494.37" y2="809.66" stroke="#6a6a6a"/>
<text transform="translate(469.2,813) scale(0.8,1)" text-anchor="end" font-size="11.5">60+</text>
<text transform="translate(510,813) scale(0.79,1)" font-size="11.6"><tspan font-weight="bold">2.1%</tspan> (2.0%, 2.2%)</text>
<rect x="478.4" y="821.06" width="24.68" height="11.49" fill="#f0eadc" stroke="#5c5c5c"/>
<line x1="502.36" y1="826.81" x2="504.54" y2="826.81" stroke="#6a6a6a"/>
<text transform="translate(469.2,831) scale(0.8,1)" text-anchor="end" font-size="11.5">60+ LRTD</text>
<text transform="translate(517,830) scale(0.79,1)" font-size="11.6"><tspan font-weight="bold">3.4%</tspan> (3.3%, 3.6%)</text>
<rect x="478.4" y="838.22" width="10.16" height="11.49" fill="#f0eadc" stroke="#5c5c5c"/>
<line x1="487.84" y1="843.96" x2="489.29" y2="843.96" stroke="#6a6a6a"/>
<text transform="translate(469.2,848) scale(0.8,1)" text-anchor="end" font-size="11.5">50-59</text>
<text transform="translate(501.2,848) scale(0.79,1)" font-size="11.6"><tspan font-weight="bold">1.4%</tspan> (1.3%, 1.5%)</text>
<rect x="478.4" y="855.37" width="21.05" height="11.49" fill="#f0eadc" stroke="#5c5c5c"/>
<line x1="498" y1="861.12" x2="500.91" y2="861.12" stroke="#6a6a6a"/>
<text transform="translate(469.2,865) scale(0.8,1)" text-anchor="end" font-size="11.5">50-59 LRTD</text>
<text transform="translate(516.6,865) scale(0.79,1)" font-size="11.6"><tspan font-weight="bold">2.9%</tspan> (2.7%, 3.1%)</text>
<rect x="478.4" y="872.52" width="8.71" height="11.49" fill="#f0eadc" stroke="#5c5c5c"/>
<line x1="486.39" y1="878.27" x2="487.11" y2="878.27" stroke="#6a6a6a"/>
<text transform="translate(469.2,882) scale(0.8,1)" text-anchor="end" font-size="11.5">18-49</text>
<text transform="translate(501.9,882) scale(0.79,1)" font-size="11.6"><tspan font-weight="bold">1.2%</tspan> (1.1%, 1.2%)</text>
<rect x="478.4" y="889.68" width="21.78" height="11.49" fill="#f0eadc" stroke="#5c5c5c"/>
<line x1="499.45" y1="895.42" x2="501.63" y2="895.42" stroke="#6a6a6a"/>
<text transform="translate(469.2,899) scale(0.8,1)" text-anchor="end" font-size="11.5">18-49 LRTD</text>
<text transform="translate(517.9,898) scale(0.79,1)" font-size="11.6"><tspan font-weight="bold">3.0%</tspan> (2.9%, 3.2%)</text>
<line x1="478.4" y1="646.7" x2="478.4" y2="907.6" stroke="#858585"/>
<text transform="translate(454.6,636.8) scale(0.82,1)" text-anchor="middle" font-size="16" font-weight="bold" stroke="#333" stroke-width="0.15">f)</text></g>
<text transform="translate(639.2,25.5) scale(0.79,1)" text-anchor="middle" font-size="11.5" font-weight="bold">22.0%</text>
<text transform="translate(637.8,35.5) scale(0.79,1)" text-anchor="middle" font-size="11.5">(19.0%, 25.1%)</text>
<text transform="translate(640.5,338.1) scale(0.79,1)" text-anchor="middle" font-size="11.5" font-weight="bold">3.5%</text>
<text transform="translate(639.5,347.8) scale(0.79,1)" text-anchor="middle" font-size="11.5">(1.6%, 5.4%)</text>
<text x="135.8" y="935.8" textLength="154.4" lengthAdjust="spacingAndGlyphs" font-size="11.5" font-weight="bold">Excess percentage of treatment</text>
<text x="474.6" y="935.8" textLength="154.7" lengthAdjust="spacingAndGlyphs" font-size="11.5" font-weight="bold">Excess percentage of treatment</text>
</svg>
</body></html>
